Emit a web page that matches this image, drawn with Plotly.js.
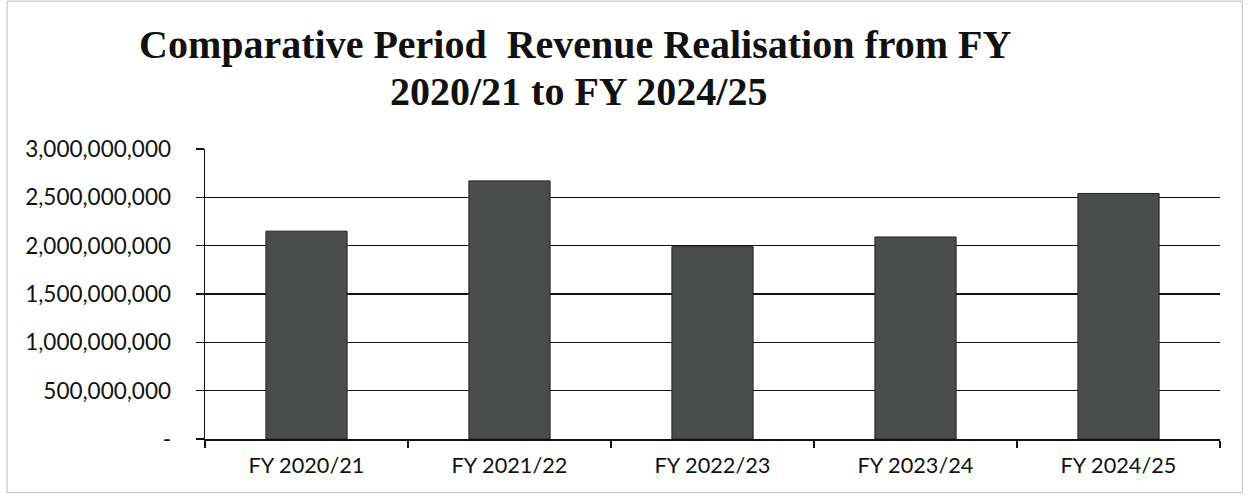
<!DOCTYPE html>
<html>
<head>
<meta charset="utf-8">
<script src="https://cdn.plot.ly/plotly-3.0.1.min.js"></script>
<style>html,body{margin:0;padding:0;background:#fff;}#chart{width:1248px;height:498px;}</style>
</head>
<body>
<div id="chart"></div>
<script>
const categories = ["FY 2020/21", "FY 2021/22", "FY 2022/23", "FY 2023/24", "FY 2024/25"];
const revenue = [2150000000, 2670000000, 1990000000, 2090000000, 2540000000];
const yTickVals = [0, 500000000, 1000000000, 1500000000, 2000000000, 2500000000, 3000000000];
const yTickText = ["-", "500,000,000", "1,000,000,000", "1,500,000,000", "2,000,000,000", "2,500,000,000", "3,000,000,000"];
const titleLines = ["Comparative Period  Revenue Realisation from FY", "2020/21 to FY 2024/25"];

const trace = {
  type: "bar",
  x: categories,
  y: revenue,
  marker: {color: "#4b4d4d", line: {color: "#222", width: 1}},
  hoverinfo: "x+y"
};

const titleFont = {family: "Liberation Serif, Times New Roman, serif", size: 40, color: "#111", weight: "bold"};

const layout = {
  width: 1248, height: 498,
  paper_bgcolor: "#fff", plot_bgcolor: "#fff",
  margin: {l: 205, r: 28, t: 149, b: 59},
  bargap: 0.6,
  showlegend: false,
  annotations: [
    {text: titleLines[0], xref: "paper", yref: "paper", x: 0.365, y: 1.359,
     xanchor: "center", yanchor: "middle", showarrow: false, font: titleFont},
    {text: titleLines[1], xref: "paper", yref: "paper", x: 0.368, y: 1.197,
     xanchor: "center", yanchor: "middle", showarrow: false, font: titleFont}
  ],
  xaxis: {
    type: "category",
    showgrid: false,
    showline: true, linecolor: "#111", linewidth: 1.5,
    ticks: "outside", ticklen: 7, tickcolor: "#111", tickwidth: 1.5,
    tickson: "boundaries",
    tickfont: {family: "Lato, Open Sans, sans-serif", size: 21.7, color: "#111"},
    ticklabelstandoff: 6,
    fixedrange: true
  },
  yaxis: {
    range: [0, 3000000000],
    tickvals: yTickVals, ticktext: yTickText,
    showgrid: true, gridcolor: "#111", gridwidth: 1.5,
    zeroline: false,
    showline: true, linecolor: "#111", linewidth: 1.5,
    ticks: "outside", ticklen: 8, tickcolor: "#111", tickwidth: 1.5,
    tickfont: {family: "Lato, Open Sans, sans-serif", size: 22.5, color: "#111"},
    ticklabelstandoff: 20,
    fixedrange: true
  },
  shapes: [
    {type: "rect", xref: "paper", yref: "paper", x0: -0.195, x1: 1.022, y0: -0.185, y1: 1.51,
     line: {color: "#bbb", width: 1}}
  ]
};

Plotly.newPlot("chart", [trace], layout, {displayModeBar: false, staticPlot: true});
</script>
</body>
</html>
